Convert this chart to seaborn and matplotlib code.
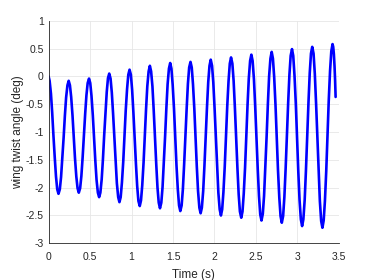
import numpy as np
import pandas as pd
import matplotlib
matplotlib.use('Agg')
import matplotlib.pyplot as plt
import seaborn as sns
from matplotlib.ticker import FormatStrFormatter

# time samples (s), one row per cycle
tempo = [0.000,
         0.012, 0.028, 0.043, 0.058, 0.074, 0.089, 0.104, 0.119, 0.135, 0.150, 0.165, 0.181, 0.196, 0.211, 0.227, 0.242,
         0.257, 0.272, 0.288, 0.303, 0.318, 0.334, 0.349, 0.364, 0.380, 0.395, 0.410, 0.425, 0.441, 0.456, 0.471, 0.487,
         0.502, 0.517, 0.533, 0.548, 0.563, 0.578, 0.594, 0.609, 0.624, 0.640, 0.655, 0.670, 0.686, 0.701, 0.716, 0.731,
         0.747, 0.762, 0.777, 0.793, 0.808, 0.823, 0.839, 0.854, 0.869, 0.884, 0.900, 0.915, 0.930, 0.946, 0.961, 0.976,
         0.992, 1.007, 1.022, 1.037, 1.053, 1.068, 1.083, 1.099, 1.114, 1.129, 1.145, 1.160, 1.175, 1.190, 1.206, 1.221,
         1.236, 1.252, 1.267, 1.282, 1.298, 1.313, 1.328, 1.343, 1.359, 1.374, 1.389, 1.405, 1.420, 1.435, 1.451, 1.466,
         1.481, 1.496, 1.512, 1.527, 1.542, 1.558, 1.573, 1.588, 1.604, 1.619, 1.634, 1.649, 1.665, 1.680, 1.695, 1.711,
         1.726, 1.741, 1.757, 1.772, 1.787, 1.802, 1.818, 1.833, 1.848, 1.864, 1.879, 1.894, 1.910, 1.925, 1.940, 1.955,
         1.971, 1.986, 2.001, 2.017, 2.032, 2.047, 2.063, 2.078, 2.093, 2.108, 2.124, 2.139, 2.154, 2.170, 2.185, 2.200,
         2.216, 2.231, 2.246, 2.261, 2.277, 2.292, 2.307, 2.323, 2.338, 2.353, 2.369, 2.384, 2.399, 2.414, 2.430, 2.445,
         2.460, 2.476, 2.491, 2.506, 2.522, 2.537, 2.552, 2.567, 2.583, 2.598, 2.613, 2.629, 2.644, 2.659, 2.675, 2.690,
         2.705, 2.720, 2.736, 2.751, 2.766, 2.782, 2.797, 2.812, 2.828, 2.843, 2.858, 2.873, 2.889, 2.904, 2.919, 2.935,
         2.950, 2.965, 2.981, 2.996, 3.011, 3.026, 3.042, 3.057, 3.072, 3.088, 3.103, 3.118, 3.134, 3.149, 3.164, 3.179,
         3.195, 3.210, 3.225, 3.241, 3.256, 3.271, 3.287, 3.302, 3.317, 3.332, 3.348, 3.363, 3.378, 3.394, 3.409, 3.424,
         3.432, 3.440, 3.448, 3.455, 3.461]

# wing twist angle (deg) at those samples
torcao = [0.00,
          -0.08, -0.31, -0.65, -1.06, -1.46, -1.80, -2.03, -2.11, -2.03, -1.81, -1.48, -1.10, -0.71, -0.38, -0.16, -0.08,
          -0.16, -0.37, -0.70, -1.09, -1.47, -1.80, -2.01, -2.09, -2.01, -1.79, -1.46, -1.07, -0.67, -0.34, -0.12, -0.04,
          -0.12, -0.35, -0.70, -1.11, -1.51, -1.86, -2.09, -2.17, -2.09, -1.85, -1.49, -1.06, -0.64, -0.28, -0.03, 0.05,
          -0.04, -0.29, -0.66, -1.11, -1.55, -1.92, -2.17, -2.26, -2.17, -1.91, -1.53, -1.07, -0.61, -0.23, 0.03, 0.12,
          0.03, -0.24, -0.64, -1.11, -1.57, -1.97, -2.24, -2.33, -2.23, -1.96, -1.55, -1.07, -0.59, -0.18, 0.09, 0.19,
          0.09, -0.18, -0.60, -1.09, -1.58, -2.00, -2.27, -2.37, -2.27, -1.99, -1.56, -1.07, -0.57, -0.14, 0.14, 0.24,
          0.14, -0.15, -0.58, -1.09, -1.60, -2.03, -2.32, -2.42, -2.32, -2.03, -1.59, -1.08, -0.57, -0.13, 0.16, 0.26,
          0.16, -0.14, -0.58, -1.10, -1.62, -2.06, -2.36, -2.46, -2.36, -2.06, -1.61, -1.08, -0.55, -0.10, 0.19, 0.30,
          0.19, -0.11, -0.56, -1.10, -1.64, -2.09, -2.39, -2.50, -2.39, -2.08, -1.62, -1.08, -0.54, -0.08, 0.23, 0.34,
          0.23, -0.08, -0.55, -1.10, -1.65, -2.12, -2.43, -2.54, -2.43, -2.11, -1.64, -1.08, -0.51, -0.04, 0.28, 0.39,
          0.28, -0.05, -0.53, -1.10, -1.67, -2.15, -2.48, -2.59, -2.47, -2.15, -1.65, -1.08, -0.50, 0.00, 0.32, 0.44,
          0.32, -0.01, -0.51, -1.10, -1.68, -2.18, -2.51, -2.63, -2.51, -2.17, -1.67, -1.07, -0.47, 0.03, 0.37, 0.49,
          0.37, 0.02, -0.49, -1.10, -1.71, -2.22, -2.57, -2.69, -2.57, -2.22, -1.70, -1.08, -0.46, 0.06, 0.41, 0.53,
          0.41, 0.05, -0.47, -1.10, -1.72, -2.24, -2.60, -2.72, -2.59, -2.24, -1.70, -1.07, -0.44, 0.10, 0.45, 0.58,
          0.53, 0.40, 0.18, -0.08, -0.37]

xticks = [0, 0.5, 1, 1.5, 2, 2.5, 3, 3.5]
yticks = [-3, -2.5, -2, -1.5, -1, -0.5, 0, 0.5, 1]

df = pd.DataFrame({'Tempo': tempo, 'Torcao': torcao})

sns.set_style('white')
plt.rcParams['font.family'] = ['Liberation Sans', 'DejaVu Sans']
plt.rcParams['axes.unicode_minus'] = False

fig = plt.figure(figsize=(3.74, 2.8), dpi=100)
ax = fig.add_axes([0.130, 0.131, 0.776, 0.795])

sns.lineplot(data=df, x='Tempo', y='Torcao', color='#0000ff', linewidth=1.9,
             ax=ax, sort=False)

ax.set_xlim(0, 3.5)
ax.set_ylim(-3, 1)
ax.set_xticks(xticks)
ax.set_yticks(yticks)
ax.xaxis.set_major_formatter(FormatStrFormatter('%g'))
ax.yaxis.set_major_formatter(FormatStrFormatter('%g'))

ax.grid(True, color='#e6e6e6', linewidth=0.6)
ax.set_axisbelow(True)
for lado in ['top', 'right']:
    ax.spines[lado].set_visible(False)
for lado in ['left', 'bottom']:
    ax.spines[lado].set_color('#262626')
    ax.spines[lado].set_linewidth(0.6)

ax.tick_params(direction='in', length=2.5, width=0.6, colors='#262626',
               labelsize=7.5)
ax.tick_params(axis='x', pad=6)
ax.tick_params(axis='y', pad=3.5)
ax.set_xlabel('Time (s)', fontsize=8.5, color='#262626', labelpad=5)
ax.set_ylabel('wing twist angle (deg)', fontsize=8.5, color='#262626', labelpad=1)

fig.savefig('out.png', dpi=100)
